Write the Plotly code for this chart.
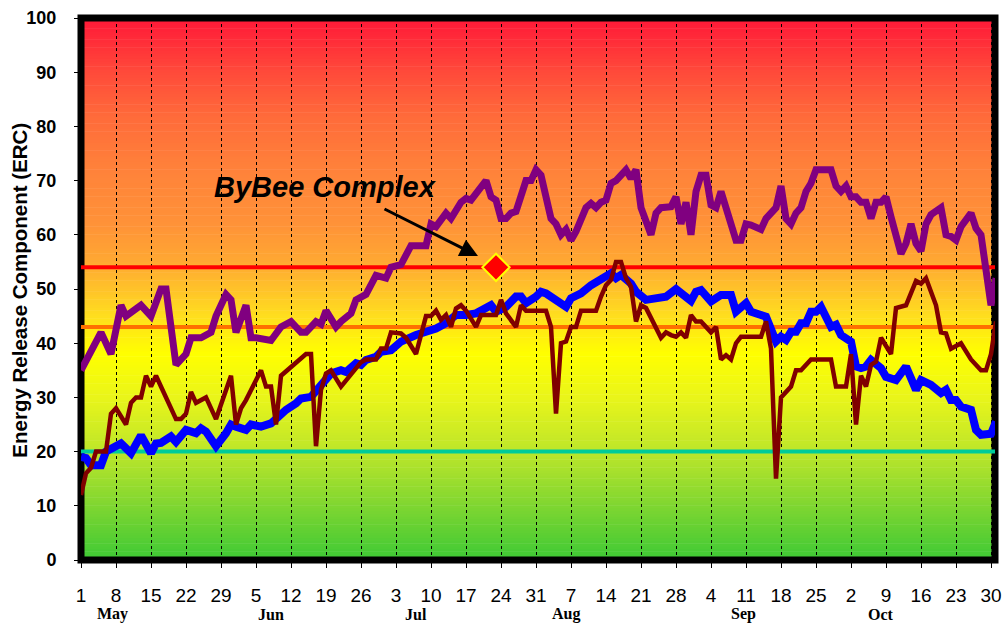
import plotly.graph_objects as go

# ---------------- data (day index: 0 = May 1) ----------------
tick_days = list(range(0, 183, 7))
tick_text = ["1", "8", "15", "22", "29", "5", "12", "19", "26", "3", "10", "17", "24", "31",
             "7", "14", "21", "28", "4", "11", "18", "25", "2", "9", "16", "23", "30"]
month_names = ["May", "Jun", "Jul", "Aug", "Sep", "Oct"]
month_label_days = [6.2, 38, 67, 97, 132.4, 159.9]

purple_days = [0, 4, 6, 8, 9, 12, 14, 16, 17, 19, 21, 22, 24, 26, 27, 29, 30, 31, 33, 34, 35, 38,
               40, 42, 44, 45, 47, 48, 49, 51, 52, 54, 55, 57, 59, 61, 62, 64, 66, 69, 70, 71, 73,
               74, 76, 77, 78, 81, 82, 83, 84, 85, 86, 87, 89, 90, 91, 92, 94, 95, 96, 97, 98, 99,
               101, 102, 103, 104, 105, 106, 107, 109, 110, 111, 112, 114, 115, 116, 118, 119, 120,
               121, 122, 123, 124, 125, 126, 127, 128, 130, 131, 132, 133, 134, 136, 137, 139, 140,
               141, 142, 143, 144, 145, 146, 147, 150, 151, 152, 153, 154, 155, 156, 157, 158, 159,
               160, 161, 162, 164, 165, 166, 167, 168, 169, 170, 172, 173, 174, 175, 176, 178, 179,
               180, 182, 183]
purple_erc = [35, 42, 38, 47, 45, 47, 45, 50, 50, 36, 38, 41, 41, 42, 45, 49, 48, 42, 47, 41, 41, 40.5,
              43, 44, 42, 42, 44, 43.5, 46, 43, 44, 45.5, 48, 49, 52.5, 52, 54, 54.5, 58, 58, 62, 61.5, 64,
              63, 66, 66.7, 66.4, 70, 67, 66.4, 63, 63, 64, 64.3, 70, 70, 72, 71, 63, 62, 60, 61, 59, 60.6,
              65, 65.8, 65, 66, 66.4, 69.5, 70, 72, 70.4, 72, 65, 60, 64, 65, 65.2, 67, 62,
              66, 60, 68, 71, 71, 65.5, 65, 68, 62.5, 59, 59, 62, 61.8, 61, 63, 65, 69,
              63, 62, 64, 65, 68, 69.5, 72, 72, 69, 68, 69, 67, 67, 66, 66, 63, 66,
              66, 67, 63.3, 56.5, 58.4, 62, 58.4, 57, 62, 63.7, 65, 60, 59.7, 59, 61.5, 64, 61.2,
              60, 47, 52]

blue_days = [0, 1, 2, 4, 5, 7, 8, 10, 12, 14, 15, 16, 18, 19, 21, 23, 24, 25, 27, 29, 30, 31, 33, 34,
             36, 38, 39, 41, 43, 44, 46, 48, 50, 52, 53, 55, 56, 57, 59, 60, 62, 64, 66, 67, 69, 71,
             73, 75, 77, 79, 82, 83, 85, 87, 88, 89, 91, 92, 93, 94, 95, 97, 98, 100, 102, 104, 106,
             107, 108, 110, 111, 113, 115, 117, 119, 120, 122, 123, 124, 126, 128, 130, 131, 133, 134,
             136, 137, 139, 140, 141, 142, 143, 144, 145, 146, 147, 148, 150, 151, 152, 154, 155, 156,
             157, 158, 160, 161, 163, 164, 165, 167, 168, 170, 172, 173, 174, 175, 176, 178, 179, 180,
             182, 183]
blue_erc = [19, 18.8, 17.5, 17.5, 20, 21, 21.5, 19.7, 23, 19.7, 21.5, 21.6, 22.8, 21.8, 24, 23.4, 24.3,
            23.7, 21, 23.4, 25, 24.6, 24, 25, 24.6, 25.2, 26.1, 27.7, 28.9, 29.8, 30.1, 32, 34.4, 35,
            34.7, 36.3, 36, 36.9, 37.5, 38.4, 38.7, 40.3, 41.2, 41.5, 42.1, 42.7, 43.7, 45.2, 45.2,
            45.5, 47, 45.8, 46.7, 48.6, 48.6, 47.4, 48.6, 49.5, 49.2, 48.6, 48.3, 46.7, 48.3, 49.2,
            50.7, 51.7, 52.9, 52, 52.6, 51, 49.5, 48, 48.3, 48.6, 50, 49.2, 47.8, 49.5, 49.8, 47.7,
            48.9, 48.9, 45.8, 47.4, 45.8, 45.2, 44.9, 40.3, 41.2, 40.6, 42.1, 42.1, 43.7, 43.7, 45.8,
            45.8, 46.7, 43, 43.4, 41.5, 40.3, 35.7, 35.4, 35.7, 36.9, 35.4, 33.8, 33.2, 34.4, 35.7,
            31.4, 33.2, 32.3, 30.8, 31.4, 29.5, 29.5, 28.3, 27.7, 24, 23.1, 23.3, 25.5]

maroon_days = [0, 1, 2, 3, 5, 6, 7, 9, 10, 11, 12, 13, 14, 15, 19, 20, 21, 22, 23, 25, 27, 30, 31, 32,
               33, 36, 37, 38, 39, 40, 45, 46, 47, 48, 49, 50, 52, 53, 55, 56, 57, 59, 60, 61, 62, 64,
               65, 67, 69, 70, 71, 72, 73, 74, 75, 76, 77, 79, 80, 83, 84, 85, 87, 88, 89, 93, 94, 95,
               96, 97, 98, 99, 100, 103, 104, 105, 106, 107, 108, 109, 110, 111, 112, 113, 116, 117,
               118, 119, 120, 121, 122, 123, 124, 126, 127, 128, 129, 130, 131, 132, 136, 137, 138,
               139, 140, 141, 142, 143, 144, 146, 150, 151, 153, 154, 155, 156, 157, 158, 159, 160,
               162, 163, 165, 167, 168, 169, 171, 172, 173, 174, 176, 178, 180, 181, 182, 183]
maroon_erc = [12, 16, 17, 20, 20, 27, 28, 25, 29, 30, 30, 34, 32, 34, 26, 26, 27, 31, 29, 30, 26, 34, 25,
              28, 29.5, 35, 32, 32, 25, 34, 38, 38, 21, 31.4, 34.4, 35, 32, 33.2, 35.5, 36.5, 37, 37, 39,
              39, 42, 41.8, 41, 38, 45, 45, 46, 44.3, 45.2, 43, 46.4, 47, 46, 43, 45.2, 45.2, 48, 45.5,
              43, 47, 46, 46, 43, 27, 40, 40.3, 43, 43, 46, 46, 48.6, 50.7, 51.7, 55, 55, 52, 50.4, 44,
              47, 46.5, 41, 42, 41.5, 41.2, 42, 41, 45.2, 44, 44, 42, 43, 37, 37.8, 37, 40, 41.2, 41.2,
              44, 39, 15, 30, 31, 32, 35, 35, 37, 37, 32, 32, 38, 25, 34, 32, 36, 36.6, 41, 38, 46.5,
              47, 51.5, 51, 52, 47, 42, 41.8, 39, 40, 37, 35, 35, 38, 44]

threshold_values = [54, 43, 20]
threshold_colors = ["#FF0000", "#FF7000", "#00CC99"]

fire_name = "ByBee Complex"
fire_day = 83
fire_erc = 54

# ---------------- figure ----------------
X_MAX = 182.8
fig = go.Figure()

# gradient background as thin bands (style only)
stops = [(0, (62, 201, 53)), (10, (127, 214, 49)), (20, (189, 230, 42)), (30, (233, 245, 26)),
         (38, (255, 255, 0)), (45, (255, 222, 30)), (50, (255, 194, 42)), (55, (255, 168, 50)),
         (62, (255, 146, 56)), (72, (255, 130, 58)), (82, (255, 106, 58)), (90, (255, 74, 58)),
         (100, (255, 24, 56))]


def col_at(v):
    for (v0, c0), (v1, c1) in zip(stops[:-1], stops[1:]):
        if v0 <= v <= v1:
            t = (v - v0) / (v1 - v0)
            return "rgb(%d,%d,%d)" % tuple(round(a + (b - a) * t) for a, b in zip(c0, c1))
    return "rgb(255,24,56)"


shapes = []
n = 200
for i in range(n):
    f0 = i / n
    shapes.append(dict(type="rect", xref="paper", yref="paper", x0=0, x1=1, y0=f0,
                       y1=min(1.0, f0 + 1.0 / n + 0.001),
                       fillcolor=col_at((f0 + 0.5 / n) * 100), line=dict(width=0), layer="below"))
# thick black frame
shapes.append(dict(type="rect", xref="paper", yref="paper", x0=0, x1=1, y0=0, y1=1,
                   line=dict(color="black", width=7), fillcolor="rgba(0,0,0,0)", layer="below"))

for val, colr in zip(threshold_values, threshold_colors):
    fig.add_trace(go.Scatter(x=[0, 183], y=[val, val], mode="lines",
                             line=dict(color=colr, width=4), hoverinfo="skip", showlegend=False))

fig.add_trace(go.Scatter(x=blue_days, y=blue_erc, mode="lines",
                         line=dict(color="#0000FF", width=8), showlegend=False))
fig.add_trace(go.Scatter(x=purple_days, y=purple_erc, mode="lines",
                         line=dict(color="#800080", width=7), showlegend=False))
fig.add_trace(go.Scatter(x=maroon_days, y=maroon_erc, mode="lines",
                         line=dict(color="#800000", width=4.5), showlegend=False))
fig.add_trace(go.Scatter(x=[fire_day], y=[fire_erc], mode="markers",
                         marker=dict(symbol="diamond", size=21, color="#FF0000",
                                     line=dict(color="#FFFF00", width=2)),
                         showlegend=False))

annotations = [
    dict(x=48.8, y=68.8, xref="x", yref="y", text="<b><i>" + fire_name + "</i></b>",
         showarrow=False, font=dict(family="Arial, Liberation Sans", size=29, color="black")),
    dict(x=79.4, y=56.1, ax=60.4, ay=64.9, xref="x", yref="y", axref="x", ayref="y",
         text="", showarrow=True, arrowhead=2, arrowsize=1.2, arrowwidth=3, arrowcolor="black"),
    dict(x=-0.0667, y=0.497, xref="paper", yref="paper", xanchor="center", yanchor="middle",
         textangle=-90, showarrow=False, text="<b>Energy Release Component (ERC)</b>",
         font=dict(family="Arial, Liberation Sans", size=20.5, color="black")),
]
for name, d in zip(month_names, month_label_days):
    annotations.append(dict(x=d, y=-0.1, xref="x", yref="paper", text="<b>" + name + "</b>",
                            showarrow=False, yanchor="middle",
                            font=dict(family="Liberation Serif, Times New Roman", size=16,
                                      color="black")))

fig.update_layout(
    width=1004, height=623,
    margin=dict(l=81, r=9, t=18, b=63, autoexpand=False),
    paper_bgcolor="white",
    plot_bgcolor="white",
    shapes=shapes,
    annotations=annotations,
    showlegend=False,
    xaxis=dict(range=[0, X_MAX], tickmode="array", tickvals=tick_days, ticktext=tick_text,
               automargin=False,
               showgrid=True, gridcolor="black", gridwidth=1, griddash="dot",
               ticks="outside", ticklen=7, tickcolor="black", showline=False, zeroline=False,
               ticklabelstandoff=11,
               tickfont=dict(family="Arial, Liberation Sans", size=19, color="black")),
    yaxis=dict(range=[0, 100], tickmode="array", tickvals=list(range(0, 101, 10)),
               automargin=False,
               showgrid=False, ticks="outside", ticklen=6, tickcolor="black", showline=False,
               zeroline=False, ticklabelstandoff=14,
               tickfont=dict(family="Arial, Liberation Sans", size=18, color="black", weight="bold")),
)

fig.write_html("out.html", config={"displayModeBar": False},
               post_script="document.body.style.margin='0';document.body.style.overflow='hidden';")
